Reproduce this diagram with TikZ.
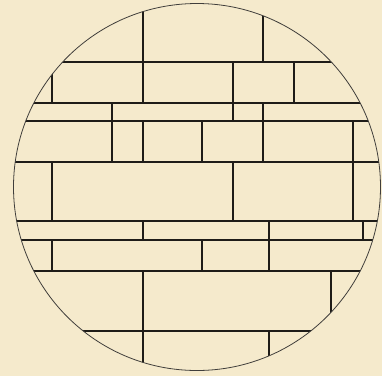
\documentclass[tikz,border=0pt]{standalone}
\definecolor{bg}{RGB}{245,234,204}
\definecolor{ink}{RGB}{30,28,24}
\begin{document}
\begin{tikzpicture}[x=1pt,y=-1pt,
  wall/.style={draw=ink,line width=1.4pt},
  rim/.style={draw=ink!85,line width=0.8pt}]
\fill[bg] (0,0) rectangle (382,376);
\useasboundingbox (0,0) rectangle (382,376);
\begin{scope}
\clip (197,187) circle (183.5);
% horizontal courses
\foreach \y in {62,103,121,162,221,240,271,331}
  \draw[wall] (0,\y) -- (382,\y);
% vertical joints
\foreach \x in {143,263} \draw[wall] (\x,0) -- (\x,62);
\foreach \x in {52,143,233,294} \draw[wall] (\x,62) -- (\x,103);
\foreach \x in {112,233,263} \draw[wall] (\x,103) -- (\x,121);
\foreach \x in {112,143,202,263,353} \draw[wall] (\x,121) -- (\x,162);
\foreach \x in {52,233,353} \draw[wall] (\x,162) -- (\x,221);
\foreach \x in {143,269,363} \draw[wall] (\x,221) -- (\x,240);
\foreach \x in {52,202,269} \draw[wall] (\x,240) -- (\x,271);
\foreach \x in {143,331} \draw[wall] (\x,271) -- (\x,331);
\foreach \x in {143,269} \draw[wall] (\x,331) -- (\x,376);
\end{scope}
\draw[rim] (197,187) circle (183.5);
\end{tikzpicture}
\end{document}
